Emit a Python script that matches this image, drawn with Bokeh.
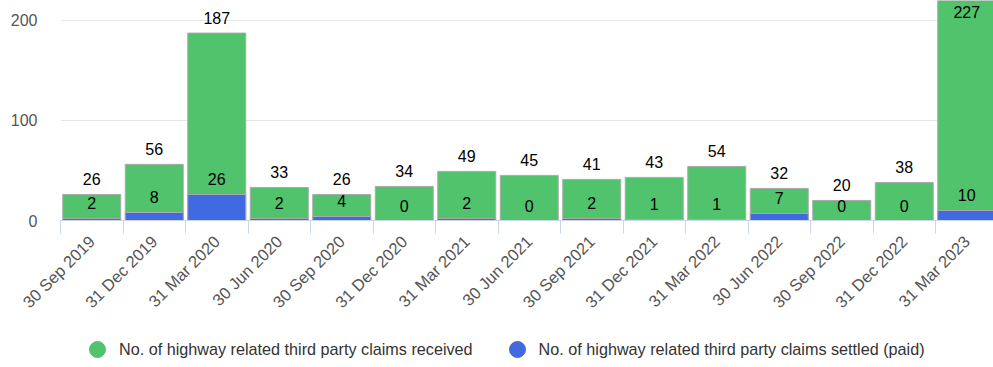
import math
from bokeh.plotting import figure
from bokeh.layouts import column
from bokeh.models import (ColumnDataSource, Range1d, FixedTicker, Legend, LegendItem)
from bokeh.core.properties import value
from bokeh.embed import file_html
from bokeh.resources import INLINE

categories = ["30 Sep 2019", "31 Dec 2019", "31 Mar 2020", "30 Jun 2020", "30 Sep 2020",
              "31 Dec 2020", "31 Mar 2021", "30 Jun 2021", "30 Sep 2021", "31 Dec 2021",
              "31 Mar 2022", "30 Jun 2022", "30 Sep 2022", "31 Dec 2022", "31 Mar 2023"]
received = [26, 56, 187, 33, 26, 34, 49, 45, 41, 43, 54, 32, 20, 38, 227]
settled = [2, 8, 26, 2, 4, 0, 2, 0, 2, 1, 1, 7, 0, 0, 10]
y_ticks = [0, 100, 200]
series_names = ["No. of highway related third party claims received",
                "No. of highway related third party claims settled (paid)"]

FONT = "Liberation Sans"
GREEN = "#50c36c"
BLUE = "#4169e1"

Y_END = 219.5
idx = list(range(len(categories)))

p = figure(width=993, height=320, output_backend="svg", toolbar_location=None,
           x_range=Range1d(-0.5, -0.5 + 933 / 62.5), y_range=Range1d(0, Y_END),
           min_border_left=60, min_border_right=0, min_border_top=0, min_border_bottom=100)
p.outline_line_color = None
p.background_fill_color = "white"
p.border_fill_color = "white"

src = ColumnDataSource(dict(x=idx, rec=received, sett=settled,
                            set_lbl=[str(v) for v in settled]))

p.vbar(x="x", top="rec", width=0.928, bottom=0, source=src,
       fill_color=GREEN, line_color="#aaaaaa", line_width=1)
p.vbar(x="x", top="sett", width=0.928, bottom=0, source=src,
       fill_color=BLUE, line_color="#aaaaaa", line_width=1)

# received labels: above the bar when it fits, inside at the top when clipped
fit = [i for i in idx if received[i] < Y_END - 20]
over = [i for i in idx if received[i] >= Y_END - 20]
src_fit = ColumnDataSource(dict(x=fit, y=[received[i] for i in fit],
                                t=[str(received[i]) for i in fit]))
src_over = ColumnDataSource(dict(x=over, y=[Y_END] * len(over),
                                 t=[str(received[i]) for i in over]))
lbl_kw = dict(text_font=value(FONT), text_font_size="16px", text_color="#000000",
              text_align="center", text_baseline="middle")
p.text(x="x", y="y", text="t", source=src_fit, y_offset=-15, **lbl_kw)
p.text(x="x", y="y", text="t", source=src_over, y_offset=11, **lbl_kw)
p.text(x="x", y="sett", text="set_lbl", source=src, y_offset=-15, **lbl_kw)

# axes
p.xaxis.ticker = FixedTicker(ticks=idx, minor_ticks=[i - 0.5 for i in range(len(categories) + 1)])
p.xaxis.major_label_overrides = {i: c for i, c in enumerate(categories)}
p.xaxis.major_label_orientation = math.pi / 4
p.xaxis.major_label_text_font = FONT
p.xaxis.major_label_text_font_size = "16.5px"
p.xaxis.major_label_text_color = "#555555"
p.xaxis.axis_line_color = "#ccd6eb"
p.xaxis.major_tick_out = 0
p.xaxis.major_tick_in = 0
p.xaxis.major_tick_line_alpha = 0
p.xaxis.minor_tick_out = 13
p.xaxis.minor_tick_in = 0
p.xaxis.minor_tick_line_color = "#ccd6eb"
p.xaxis.major_label_standoff = 5

p.yaxis.ticker = FixedTicker(ticks=y_ticks)
p.yaxis.major_label_text_font = FONT
p.yaxis.major_label_text_font_size = "16px"
p.yaxis.major_label_text_color = "#555555"
p.yaxis.axis_line_alpha = 0
p.yaxis.major_tick_out = 0
p.yaxis.major_tick_in = 0
p.yaxis.minor_tick_line_alpha = 0
p.yaxis.major_label_standoff = 23

p.xgrid.grid_line_color = None
p.ygrid.ticker = FixedTicker(ticks=y_ticks)
p.ygrid.grid_line_color = "#e6e6e6"

# legend strip below the chart (its frame is aligned with the chart's frame)
lp = figure(width=993, height=47, output_backend="svg", toolbar_location=None,
            x_range=Range1d(0, 1), y_range=Range1d(0, 1),
            x_axis_location=None, y_axis_location=None,
            min_border_left=0, min_border_right=0, min_border_top=0, min_border_bottom=0)
lp.outline_line_color = None
lp.grid.visible = False
nan = float("nan")
r1 = lp.scatter(x=[nan], y=[nan], marker="circle", fill_color=GREEN, line_color=GREEN)
r2 = lp.scatter(x=[nan], y=[nan], marker="circle", fill_color=BLUE, line_color=BLUE)
legend = Legend(items=[LegendItem(label=series_names[0], renderers=[r1]),
                       LegendItem(label=series_names[1], renderers=[r2])],
                orientation="horizontal", location=(17, -2),
                glyph_width=40, glyph_height=40, label_standoff=2, spacing=24,
                padding=0, margin=0, border_line_alpha=0, background_fill_alpha=0,
                label_text_font=FONT, label_text_font_size="16.2px",
                label_text_color="#333333")
lp.add_layout(legend, "center")

layout = column(p, lp, spacing=0)
open("out.html", "w").write(file_html(layout, INLINE))
